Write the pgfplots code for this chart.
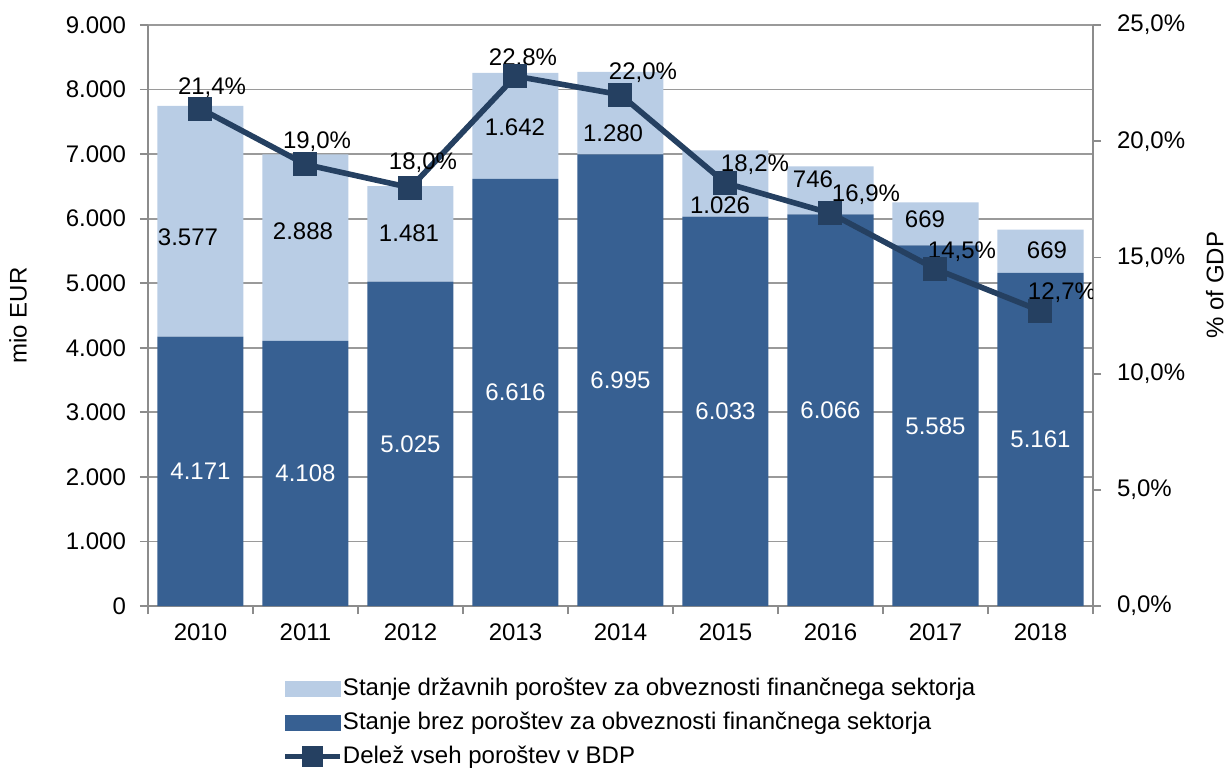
\documentclass[border=0pt]{standalone}
\usepackage{pgfplots}
\pgfplotsset{compat=1.18}
\usepackage{fontspec}
\setmainfont{Liberation Sans}
\definecolor{lightb}{HTML}{B9CDE5}
\definecolor{darkb}{HTML}{376092}
\definecolor{linec}{HTML}{254061}
\definecolor{axg}{HTML}{8C8C8C}
\definecolor{gridg}{HTML}{9A9A9A}
\newcommand{\lf}{\fontsize{12}{14}\selectfont}
\begin{document}
\begin{tikzpicture}
\path[use as bounding box] (-74pt,-80.5pt) rectangle (539pt,303pt);
\begin{axis}[
  at={(0,0)}, anchor=south west,
  scale only axis, width=472.5pt, height=290.5pt,
  xmin=-0.5, xmax=8.5, ymin=0, ymax=9000,
  ybar stacked, bar width=43pt,
  axis x line*=bottom, axis y line*=left,
  axis line style={axg, line width=0.9pt, -},
  tick align=outside,
  major tick length=4pt, minor tick length=4pt,
  xtick={0,1,2,3,4,5,6,7,8},
  xticklabels={2010,2011,2012,2013,2014,2015,2016,2017,2018},
  major x tick style={draw=none},
  minor xtick={-0.5,0.5,1.5,2.5,3.5,4.5,5.5,6.5,7.5,8.5},
  minor x tick style={axg, line width=0.9pt},
  ytick={0,1000,2000,3000,4000,5000,6000,7000,8000,9000},
  yticklabels={0,1.000,2.000,3.000,4.000,5.000,6.000,7.000,8.000,9.000},
  y tick style={axg, line width=0.9pt},
  ymajorgrids, grid style={gridg, line width=0.9pt},
  tick label style={font=\lf},
  yticklabel style={xshift=-3.5pt},
  xticklabel style={yshift=-1.5pt},
  ylabel={mio EUR}, ylabel style={font=\lf, at={(axis description cs:-0.1376,0.5)}, anchor=center, rotate=0},
]
\addplot[fill=darkb, draw=none] coordinates {(0,4171) (1,4108) (2,5025) (3,6616) (4,6995) (5,6033) (6,6066) (7,5585) (8,5161)};
\addplot[fill=lightb, draw=none] coordinates {(0,3577) (1,2888) (2,1481) (3,1642) (4,1280) (5,1026) (6,746) (7,669) (8,669)};
\end{axis}
\begin{axis}[
  at={(0,0)}, anchor=south west,
  scale only axis, width=472.5pt, height=290.5pt,
  xmin=-0.5, xmax=8.5, ymin=0, ymax=25,
  axis x line=none, axis y line*=right,
  axis line style={axg, line width=0.9pt, -},
  tick align=outside, major tick length=4pt,
  ytick={0,5,10,15,20,25},
  yticklabels={{0,0\%},{5,0\%},{10,0\%},{15,0\%},{20,0\%},{25,0\%}},
  y tick style={axg, line width=0.9pt},
  tick label style={font=\lf},
  yticklabel style={xshift=4.5pt},
  ylabel={\% of GDP}, ylabel style={font=\lf, at={(axis description cs:1.129,0.5525)}, anchor=center, rotate=0},
  legend style={at={(axis description cs:0.1418,-0.1215)}, anchor=north west, draw=none, fill=none,
    inner sep=0pt, row sep=5pt, font=\lf,
    nodes={inner sep=0pt, text height=9pt, text depth=3pt, anchor=base west}},
  legend cell align=left,
]
\addlegendimage{legend image code/.code={\fill[lightb] (0pt,-0.5pt) rectangle (27.5pt,7pt);}}
\addlegendentry{Stanje državnih poroštev za obveznosti finančnega sektorja}
\addlegendimage{legend image code/.code={\fill[darkb] (0pt,-0.5pt) rectangle (27.5pt,7pt);}}
\addlegendentry{Stanje brez poroštev za obveznosti finančnega sektorja}
\addplot[linec, line width=2.8pt, mark=square*, mark size=4.6pt, mark options={solid, fill=linec},
  legend image code/.code={\draw[linec, line width=2.8pt] (0pt,3.2pt) -- (27.5pt,3.2pt); \fill[linec] (10pt,-0.5pt) rectangle (17.5pt,7pt);}]
  coordinates {(0,21.4) (1,19.0) (2,18.0) (3,22.8) (4,22.0) (5,18.2) (6,16.9) (7,14.5) (8,12.7)};
\addlegendentry{Delež vseh poroštev v BDP}
% dark bar labels (positions in right-axis units: value/360)
\node[white, font=\lf] at (axis cs:0,5.792) {4.171};
\node[white, font=\lf] at (axis cs:1,5.706) {4.108};
\node[white, font=\lf] at (axis cs:2,6.978) {5.025};
\node[white, font=\lf] at (axis cs:3,9.189) {6.616};
\node[white, font=\lf] at (axis cs:4,9.714) {6.995};
\node[white, font=\lf] at (axis cs:5,8.378) {6.033};
\node[white, font=\lf] at (axis cs:6,8.425) {6.066};
\node[white, font=\lf] at (axis cs:7,7.756) {5.585};
\node[white, font=\lf] at (axis cs:8,7.167) {5.161};
% light bar labels
\node[font=\lf] at (axis cs:-0.119,15.878) {3.577};
\node[font=\lf] at (axis cs:0.976,16.136) {2.888};
\node[font=\lf] at (axis cs:1.986,16.05) {1.481};
\node[font=\lf] at (axis cs:2.995,20.611) {1.642};
\node[font=\lf] at (axis cs:3.929,20.353) {1.280};
\node[font=\lf] at (axis cs:4.948,17.256) {1.026};
\node[font=\lf] at (axis cs:5.833,18.372) {746};
\node[font=\lf] at (axis cs:6.90,16.653) {669};
\node[font=\lf] at (axis cs:8.062,15.319) {669};
% line labels
\node[font=\lf] at (axis cs:0.110,22.29) {21,4\%};
\node[font=\lf] at (axis cs:1.110,19.97) {19,0\%};
\node[font=\lf] at (axis cs:2.119,19.06) {18,0\%};
\node[font=\lf] at (axis cs:3.071,23.54) {22,8\%};
\node[font=\lf] at (axis cs:4.214,22.93) {22,0\%};
\node[font=\lf] at (axis cs:5.281,18.98) {18,2\%};
\node[font=\lf] at (axis cs:6.338,17.69) {16,9\%};
\node[font=\lf] at (axis cs:7.252,15.23) {14,5\%};
\node[font=\lf] at (axis cs:8.205,13.47) {12,7\%};
\end{axis}
\end{tikzpicture}
\end{document}
